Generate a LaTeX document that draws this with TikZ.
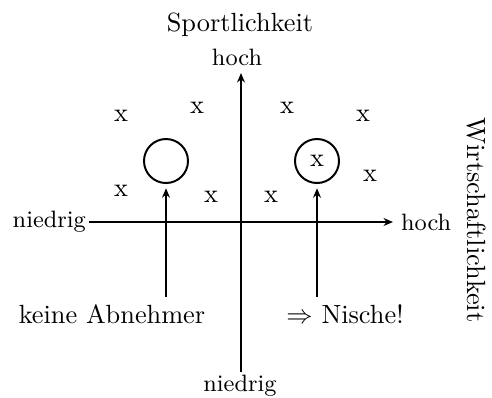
\documentclass[tikz,border=0pt]{standalone}
\usetikzlibrary{arrows.meta}
\begin{document}
\begin{tikzpicture}[x=0.38pt,y=-0.38pt,
  axis/.style={line width=0.75pt,-{Stealth[length=3.6pt,width=3pt]}},
  lbl/.style={inner sep=1pt,font=\small},
  prod/.style={inner sep=0pt,font=\normalsize},
  ring/.style={circle,draw,line width=0.75pt,minimum size=44*0.38pt,inner sep=0pt,outer sep=2pt},
  note/.style={inner sep=1pt,font=\normalsize}]
  \useasboundingbox (0,0) rectangle (492,397);

  % axis labels
  \node (title) at (240,25) {Sportlichkeit};
  \node[lbl] (yhi) at (237,57) {hoch};
  \node[lbl] (ylo) at (240,386) {niedrig};
  \node[lbl,anchor=east] (xlo) at (89,222) {niedrig};
  \node[lbl,anchor=west] (xhi) at (398,222) {hoch};
  \node[rotate=-90] (wirt) at (476,220) {Wirtschaftlichkeit};

  % axes
  \coordinate (ybot) at (241,372);
  \coordinate (ytop) at (241,73);
  \coordinate (xright) at (393,222);
  \draw[axis] (ybot) -- (ytop);
  \draw[axis] (xlo.east) -- (xright);

  % products
  \node[prod] (p1) at (121,116) {x};
  \node[prod] (p2) at (197,108) {x};
  \node[prod] (p3) at (287,108) {x};
  \node[prod] (p4) at (363,116) {x};
  \node[prod] (p5) at (370,176) {x};
  \node[prod] (p6) at (121,191) {x};
  \node[prod] (p7) at (211,197) {x};
  \node[prod] (p8) at (271,197) {x};

  % gaps in the market
  \node[ring] (gapL) at (166,161) {};
  \node[ring] (gapR) at (317,161) {x};

  % annotations
  \node[note] (noBuyers) at (112,314) {keine Abnehmer};
  \node[note] (niche) at (345,314) {$\Rightarrow$ Nische!};
  \coordinate (nbTop) at (166,297);
  \coordinate (niTop) at (317,297);
  \draw[axis] (nbTop) -- (gapL.south);
  \draw[axis] (niTop) -- (gapR.south);
\end{tikzpicture}
\end{document}
